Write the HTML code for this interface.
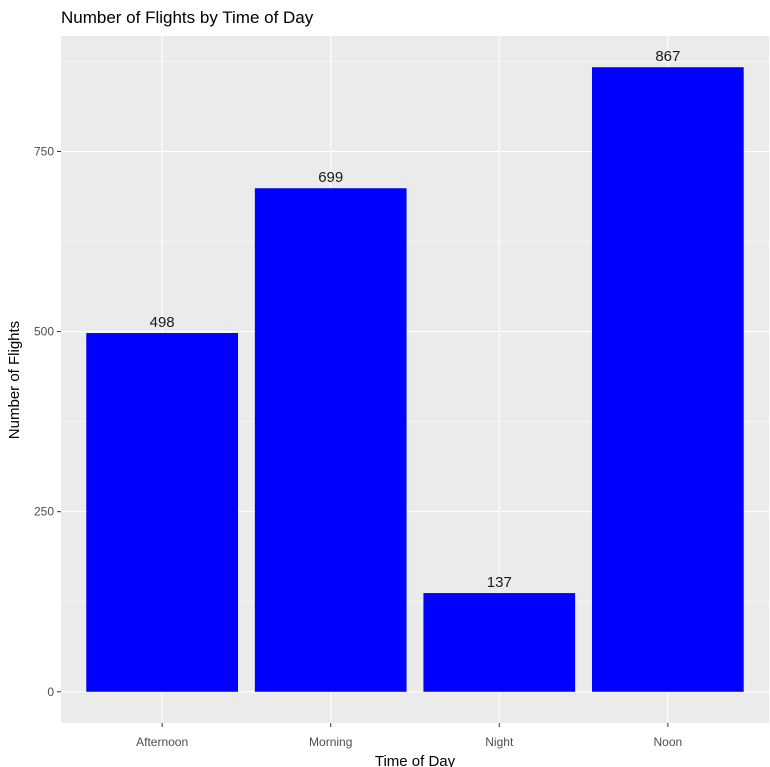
<!DOCTYPE html>
<html><head><meta charset="utf-8"><style>
html,body{margin:0;padding:0;background:#fff;}
svg{display:block;font-family:"Liberation Sans",sans-serif;}
</style></head><body>
<svg id="chart" width="770" height="767">
<text x="61" y="23" font-size="17" fill="#000">Number of Flights by Time of Day</text>
<rect x="61" y="36" width="708" height="687" fill="#ebebeb"/>
<g id="grid"></g><g id="bars"></g><g id="labels"></g><g id="axes"></g>
<text x="415" y="766" font-size="15" text-anchor="middle" fill="#000">Time of Day</text>
<text transform="translate(19,380) rotate(-90)" font-size="15" text-anchor="middle" fill="#000">Number of Flights</text>
</svg>
<script>
const categories=["Afternoon","Morning","Night","Noon"];
const values=[498,699,137,867];
const yTicks=[0,250,500,750];
const NS="http://www.w3.org/2000/svg";
const pLeft=61,pRight=769,pTop=36,pBottom=723;
const yMin=-43.35,yMax=910.35;
function yS(v){return pBottom-(v-yMin)/(yMax-yMin)*(pBottom-pTop);}
const step=(pRight-pLeft)/(categories.length+0.2);
function xS(i){return pLeft+step*(0.6+i);}
function mk(tag,attrs,parent){const e=document.createElementNS(NS,tag);for(const k in attrs)e.setAttribute(k,attrs[k]);document.getElementById(parent).appendChild(e);return e;}
for(let i=0;i<yTicks.length;i++){
 const v=yTicks[i];
 const g=mk("line",{x1:pLeft,x2:pRight,y1:yS(v),y2:yS(v),stroke:"#fff","stroke-width":1.1},"grid");
 
 
 if(i<yTicks.length-1){const m=(v+yTicks[i+1])/2;
  const gm=mk("line",{x1:pLeft,x2:pRight,y1:yS(m),y2:yS(m),stroke:"#fff","stroke-width":0.5},"grid");
  
  }
 const tk=mk("line",{x1:pLeft-4,x2:pLeft,y1:yS(v),y2:yS(v),stroke:"#333"},"axes");
 
 
 const t=mk("text",{x:pLeft-7,y:yS(v)+4,"font-size":12,"text-anchor":"end",fill:"#4d4d4d"},"axes");
 t.textContent=v;
 
 
}
{const m=(yTicks[yTicks.length-1]+1000)/2;
 const gm=mk("line",{x1:pLeft,x2:pRight,y1:yS(m),y2:yS(m),stroke:"#fff","stroke-width":0.5},"grid");
 
 }
const bw=step*0.9;
categories.forEach((c,i)=>{
 const g=mk("line",{x1:xS(i),x2:xS(i),y1:pTop,y2:pBottom,stroke:"#fff","stroke-width":1.1},"grid");
 
 
 const b=mk("rect",{x:xS(i)-bw/2,y:yS(values[i]),width:bw,height:yS(0)-yS(values[i]),fill:"#0000ff"},"bars");
 
 
 const l=mk("text",{x:xS(i),y:yS(values[i])-6,"font-size":15,"text-anchor":"middle",fill:"#1a1a1a"},"labels");
 l.textContent=values[i];
 
 
 const tk=mk("line",{x1:xS(i),x2:xS(i),y1:pBottom,y2:pBottom+4,stroke:"#333"},"axes");
 
 
 const t=mk("text",{x:xS(i),y:pBottom+23,"font-size":12,"text-anchor":"middle",fill:"#4d4d4d"},"axes");
 t.textContent=c;
 
 
});
</script>
</body></html>
